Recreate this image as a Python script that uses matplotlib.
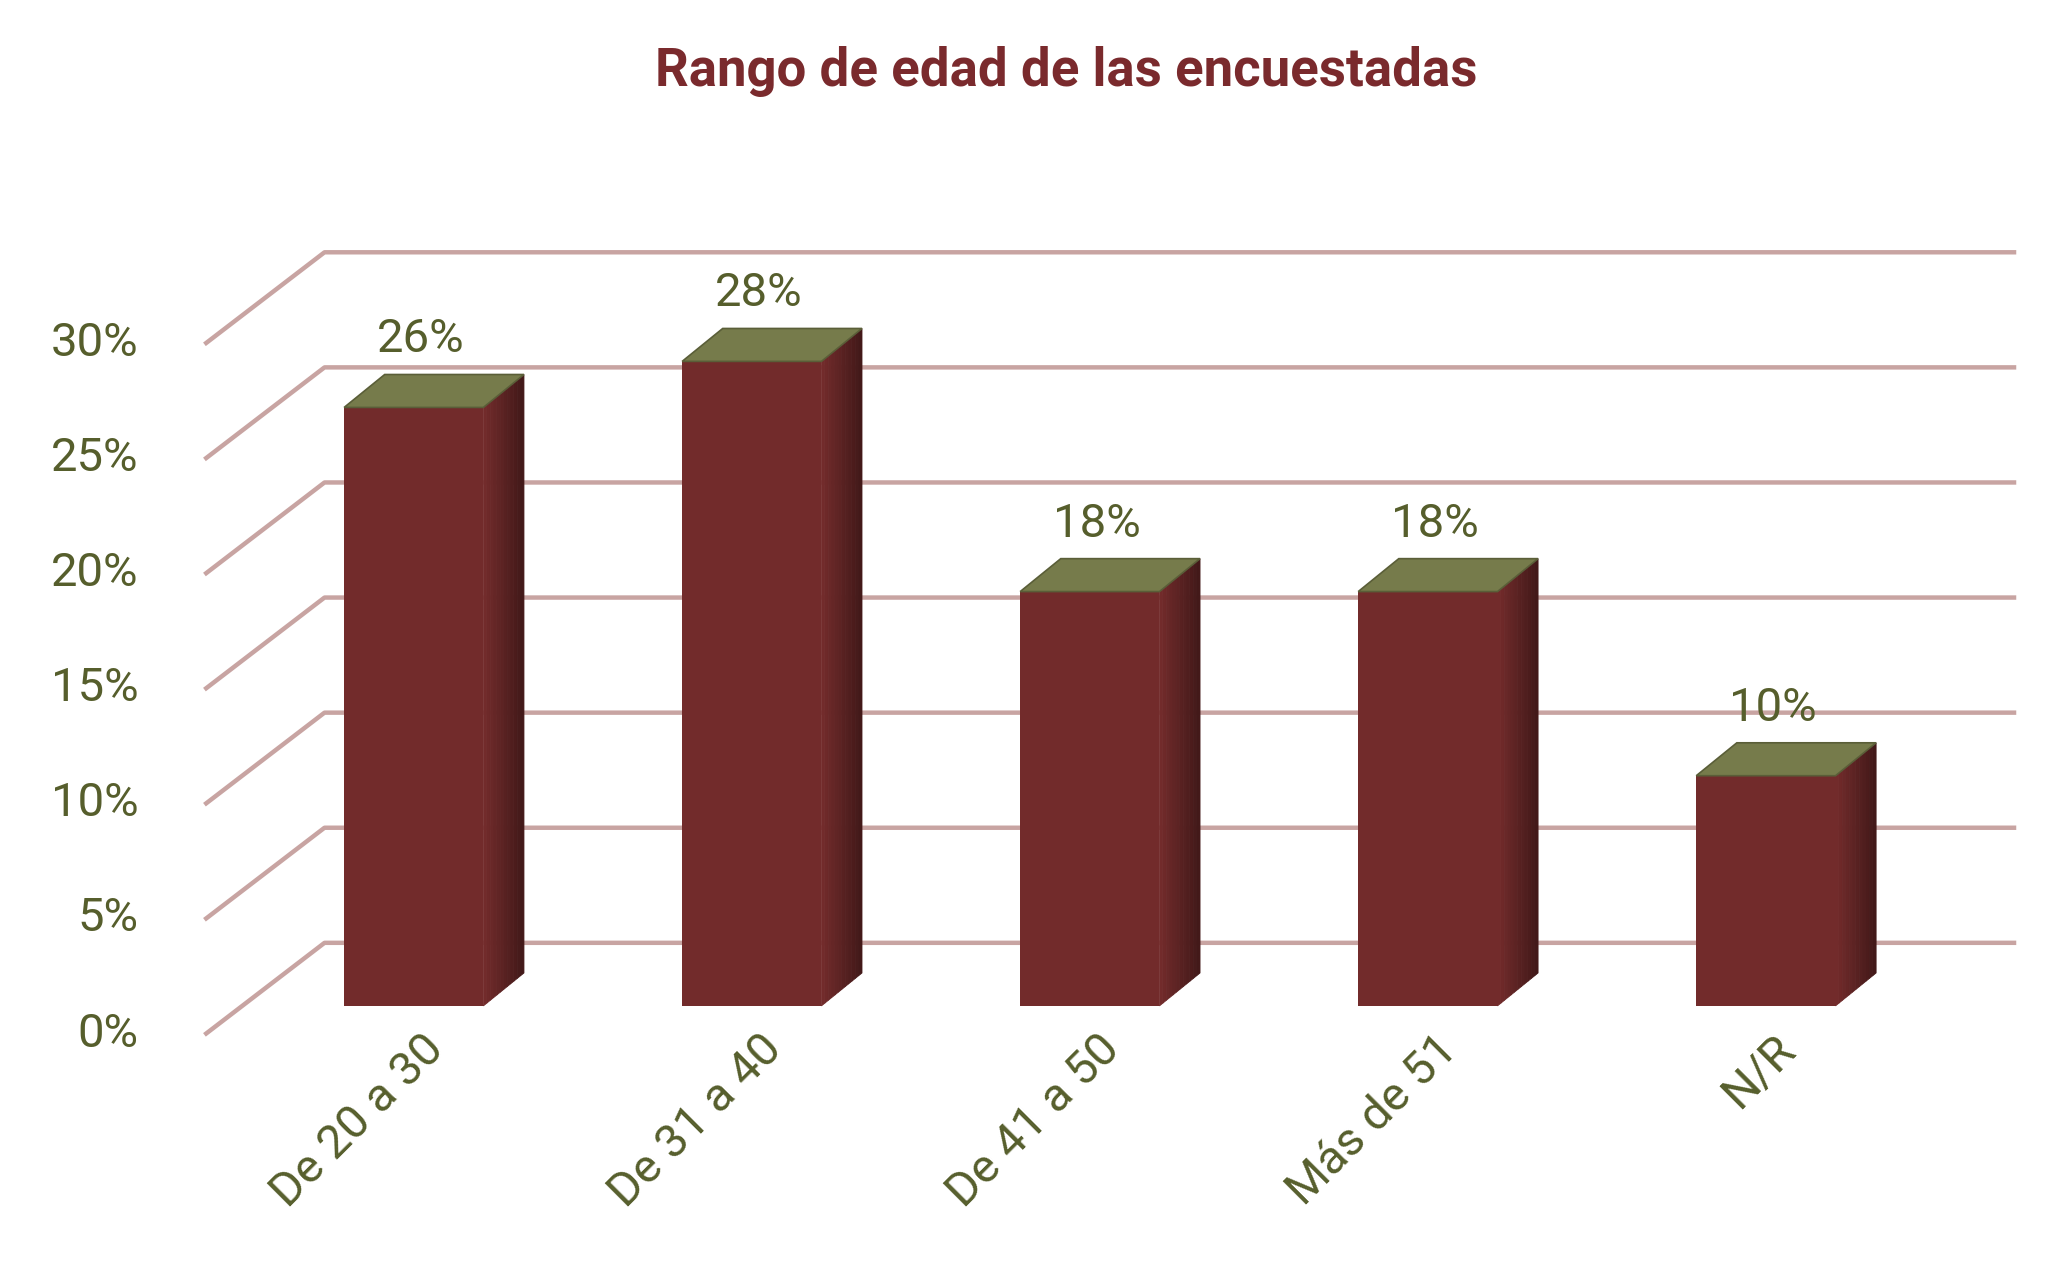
import matplotlib
matplotlib.use("Agg")
import matplotlib.pyplot as plt
from matplotlib.patches import Polygon
import numpy as np

categories = ["De 20 a 30", "De 31 a 40", "De 41 a 50", "Más de 51", "N/R"]
values = [26, 28, 18, 18, 10]
yticks = [0, 5, 10, 15, 20, 25, 30]
ytick_labels = ["0%", "5%", "10%", "15%", "20%", "25%", "30%"]
title = "Rango de edad de las encuestadas"

plt.rcParams['font.family'] = ['Roboto', 'DejaVu Sans']
fig = plt.figure(figsize=(10.3, 6.33), dpi=200)
ax = fig.add_axes([0, 0, 1, 1])
ax.set_xlim(-1.224, 4.870)
ax.set_ylim(-11.30, 43.70)
ax.axis("off")

txt = "#565E2C"
grid = "#C8A4A2"
# wall grid
xf, xb, xr = -0.614, -0.264, 4.734
for v, lab in zip(yticks, ytick_labels):
    ax.plot([xf, xb, xr], [v - 1.2, v + 2.74, v + 2.74], color=grid, lw=1.6, zorder=1)
    ax.text(xf - 0.2, v - 1.2, lab, ha="right", va="center", fontsize=17, color=txt)

hw = 0.206
ddx, ddy = 0.12, 1.43
for i, (c, v) in enumerate(zip(categories, values)):
    xl, xrr = i - hw, i + hw
    # side with gradient
    n = 12
    cols = [np.array([0x72, 0x2B, 0x2B]) / 255 * (1 - 0.45 * k / n) for k in range(n)]
    for k in range(n):
        a, b = k / n, (k + 1) / n
        ax.add_patch(Polygon([(xrr + a * ddx, a * ddy), (xrr + b * ddx, b * ddy),
                              (xrr + b * ddx, v + b * ddy), (xrr + a * ddx, v + a * ddy)],
                             closed=True, fc=cols[k], ec=cols[k], lw=0.3, zorder=3))
    ax.add_patch(Polygon([(xl, 0), (xrr, 0), (xrr, v), (xl, v)], closed=True,
                         fc="#722B2B", ec="none", zorder=4))
    ax.add_patch(Polygon([(xl, v), (xrr, v), (xrr + ddx, v + ddy), (xl + ddx, v + ddy)],
                         closed=True, fc="#767B4B", ec="#5a5e38", lw=0.6, zorder=4))
    ax.text(i + 0.02, v + 2.0, f"{v}%", ha="center", va="bottom", fontsize=17, color=txt, zorder=5)
    ax.text(i + 0.02, -0.9, c, ha="right", va="top", rotation=45, rotation_mode="anchor",
            fontsize=17, color=txt)

ax.text(1.93, 40.6, title, ha="center", va="center", fontsize=19, fontweight="bold", color="#7A2A2D")
fig.savefig("out.png", dpi=200)
